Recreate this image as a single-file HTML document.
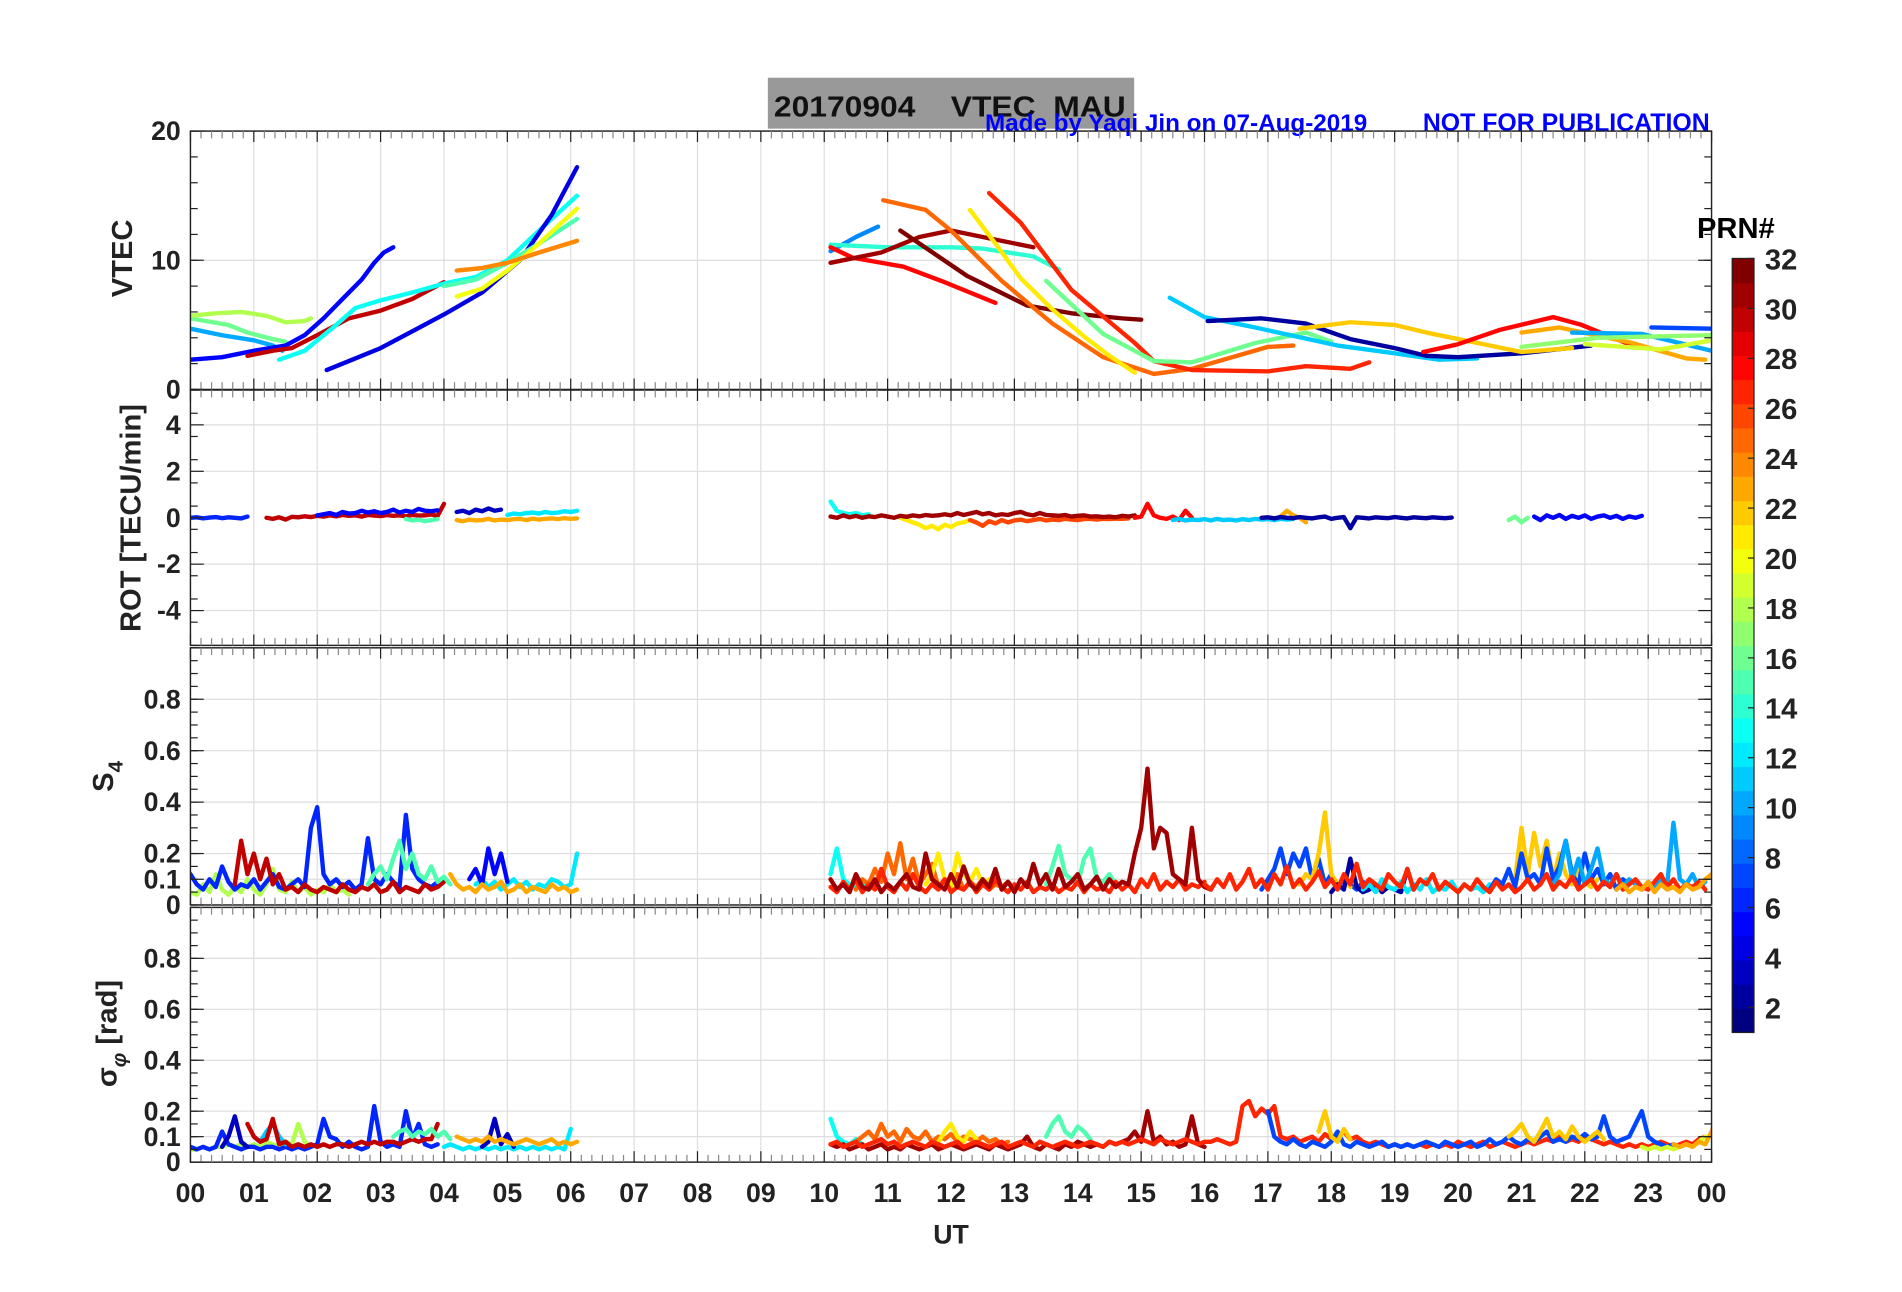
<!DOCTYPE html>
<html><head><meta charset="utf-8"><title>20170904 VTEC MAU</title>
<style>
html,body{margin:0;padding:0;background:#fff;}
svg{display:block;}
text{font-family:"Liberation Sans",Arial,sans-serif;font-weight:bold;}
</style></head>
<body>
<svg id="chart" xmlns="http://www.w3.org/2000/svg" width="1902" height="1292" viewBox="0 0 1568 1065">
<rect x="0" y="0" width="1568" height="1065" fill="#fff"/>
<g id="title-group">
<rect x="633" y="64" width="302" height="42" fill="#999999"/>
<text x="638" y="96" font-size="24" fill="#111" xml:space="preserve" textLength="290" lengthAdjust="spacingAndGlyphs">20170904    VTEC  MAU</text>
<text x="812" y="108" font-size="20" fill="#0000ff">Made by Yaqi Jin on 07-Aug-2019</text>
<text x="1173" y="108" font-size="20.5" fill="#0000ff">NOT FOR PUBLICATION</text>
</g>
<g id="grid"></g>
<g id="marks"></g>
<g id="axes"></g>
<g id="cbar"></g>
<text x="784" y="1025" font-size="22" text-anchor="middle" fill="#222">UT</text>
<text transform="translate(109,213) rotate(-90)" font-size="24" text-anchor="middle" fill="#222">VTEC</text>
<text transform="translate(116,427) rotate(-90)" font-size="24" text-anchor="middle" fill="#222">ROT [TECU/min]</text>
<text transform="translate(93,640) rotate(-90)" font-size="24" text-anchor="middle" fill="#222">S<tspan font-size="17" dy="8">4</tspan></text>
<text transform="translate(96,852) rotate(-90)" font-size="24" text-anchor="middle" fill="#222">σ<tspan font-size="17" dy="8" font-style="italic">φ</tspan><tspan dy="-8"> [rad]</tspan></text>
</svg>
<script>
// ---------- data ----------
const hourLabels = ["00","01","02","03","04","05","06","07","08","09","10","11","12","13","14","15","16","17","18","19","20","21","22","23","00"];
const vtecTicks = [0,10,20];
const rotTicks = [-4,-2,0,2,4];
const s4Ticks = [0,0.1,0.2,0.4,0.6,0.8];
const sigTicks = [0,0.1,0.2,0.4,0.6,0.8];
const cbarTicks = [2,4,6,8,10,12,14,16,18,20,22,24,26,28,30,32];

const vtecTracks = [
 {prn:10,t:[0,0.5,1,1.3,1.45],v:[4.7,4.2,3.8,3.4,3.0]},
 {prn:16,t:[0,0.6,0.9,1.3,1.5],v:[5.5,5.0,4.4,3.9,3.7]},
 {prn:18,t:[0,0.4,0.8,1.2,1.5,1.8,1.9],v:[5.7,5.9,6.0,5.7,5.2,5.3,5.5]},
 {prn:5,t:[0,0.5,1.0,1.5,1.8,2.1,2.4,2.7,2.9,3.05,3.2],v:[2.3,2.5,3.0,3.4,4.2,5.5,7.0,8.5,9.8,10.6,11.0]},
 {prn:30,t:[0.9,1.3,1.6,2.0,2.5,3.0,3.5,4.0],v:[2.6,3.0,3.2,4.2,5.5,6.1,7.0,8.3]},
 {prn:13,t:[1.4,1.8,2.3,2.6,3.0,3.5,4.0,4.5,5.0,5.5,6.1],v:[2.3,3.0,5.0,6.3,6.9,7.5,8.2,8.7,10.0,12.3,15.0]},
 {prn:4,t:[2.15,2.5,3.0,3.5,4.0,4.6,5.2,5.7,6.1],v:[1.5,2.2,3.2,4.5,5.8,7.5,10.0,13.5,17.2]},
 {prn:15,t:[4.0,4.5,5.0,5.5,6.1],v:[8.0,8.5,9.8,11.3,13.2]},
 {prn:20,t:[4.2,4.6,5.0,5.5,6.1],v:[7.2,7.8,9.2,11.3,14.0]},
 {prn:24,t:[4.2,4.6,5.0,5.5,6.1],v:[9.2,9.4,9.8,10.6,11.5]},
 {prn:9,t:[10.1,10.5,10.85],v:[10.7,11.8,12.6]},
 {prn:14,t:[10.1,11.0,12.0,12.5,13.3,13.7],v:[11.2,11.0,11.0,10.9,10.3,9.3]},
 {prn:28,t:[10.1,10.45,11.25,11.9,12.7],v:[11.0,10.2,9.5,8.3,6.7]},
 {prn:31,t:[10.1,10.9,11.5,12.0,12.5,13.3],v:[9.8,10.6,11.8,12.3,11.8,11.0]},
 {prn:32,t:[11.2,12.25,13.2,13.9,14.7,15.0],v:[12.3,8.8,6.5,5.9,5.5,5.4]},
 {prn:25,t:[10.93,11.6,12.0,12.8,13.6,14.4,15.2,15.8,17.0,17.4],v:[14.65,13.9,12.3,8.4,5.1,2.5,1.2,1.6,3.3,3.4]},
 {prn:21,t:[12.3,12.7,13.1,13.6,14.1,14.5,14.9],v:[13.9,11.3,8.6,6.2,4.1,2.6,1.3]},
 {prn:27,t:[12.6,13.1,13.9,14.9,15.2,15.8,17.0,17.6,18.3,18.6],v:[15.2,12.9,7.7,3.6,2.2,1.5,1.4,1.8,1.6,2.1]},
 {prn:16,t:[13.5,14.4,15.2,15.8,16.8,17.6,18.0],v:[8.4,4.3,2.2,2.1,3.6,4.4,3.7]},
 {prn:11,t:[15.45,16.0,16.8,18.1,19.0,19.7,20.3],v:[7.1,5.6,4.8,3.4,2.8,2.3,2.4]},
 {prn:2,t:[16.05,16.9,17.6,18.3,19.0,19.5,20.0,21.0,22.1],v:[5.3,5.5,5.1,3.9,3.2,2.6,2.5,2.8,3.4]},
 {prn:22,t:[17.5,18.3,19.0,19.5,20.5,21.0,21.8],v:[4.7,5.2,5.0,4.4,3.4,2.9,3.2]},
 {prn:28,t:[19.45,20.0,20.65,21.5,21.95,22.8],v:[2.9,3.5,4.6,5.6,5.0,3.3]},
 {prn:23,t:[21.0,21.6,22.75,23.6,23.9],v:[4.4,4.8,3.6,2.4,2.3]},
 {prn:10,t:[21.8,22.9,24.0],v:[4.4,4.3,3.0]},
 {prn:17,t:[21.0,22.2,24.0],v:[3.3,4.0,4.2]},
 {prn:19,t:[22.0,23.2,24.0],v:[3.5,3.1,3.8]},
 {prn:7,t:[23.05,24.0],v:[4.8,4.7]}
];

// noise series: start hour, 0.1-hour sampling
const rotTracks = [
 {prn:6,t0:0,v:[0,0.02,-0.03,0.01,0.03,-0.02,0.02,0,-0.03,0.05]},
 {prn:30,t0:1.2,v:[0,-0.05,0.02,-0.08,0.04,0.02,0.06,0.03,0.08,0.05,0.1,0.06,0.12,0.08,0.1,0.05,0.12,0.09,0.07,0.11,0.08,0.1,0.06,0.12,0.09,0.1,0.14,0.08,0.6]},
 {prn:5,t0:2.0,v:[0.1,0.15,0.2,0.12,0.25,0.18,0.2,0.3,0.22,0.28,0.2,0.25,0.35,0.22,0.3,0.25,0.38,0.3,0.28,0.32]},
 {prn:15,t0:3.4,v:[-0.05,-0.12,-0.08,-0.15,-0.1,-0.06]},
 {prn:3,t0:4.2,v:[0.25,0.3,0.2,0.35,0.28,0.4,0.3,0.35]},
 {prn:12,t0:5.0,v:[0.12,0.18,0.15,0.2,0.22,0.18,0.25,0.2,0.22,0.28,0.25,0.3]},
 {prn:23,t0:4.2,v:[-0.1,-0.15,-0.08,-0.12,-0.1,-0.05,-0.12,-0.08,-0.1,-0.06,-0.05,-0.1,-0.04,-0.08,-0.05,-0.03,-0.06,-0.02,-0.05,-0.03]},
 {prn:13,t0:10.1,v:[0.7,0.3,0.2,0.15,0.2,0.1,0.15]},
 {prn:21,t0:11.2,v:[0,-0.1,-0.2,-0.3,-0.45,-0.35,-0.5,-0.3,-0.4,-0.25,-0.2,-0.1]},
 {prn:26,t0:12.3,v:[-0.1,-0.2,-0.35,-0.15,-0.25,-0.1,-0.2,-0.12,-0.08,-0.15,-0.1,-0.05,-0.12,-0.08,-0.1,-0.05,-0.08,-0.1,-0.06,-0.05,-0.08,-0.05,-0.06,-0.04,-0.05,-0.03]},
 {prn:31,t0:10.1,v:[0.05,0,0.1,0.02,0.08,0,0.06,0.03,0.1,0.05,0,0.08,0.04,0.1,0.06,0.12,0.08,0.1,0.15,0.1,0.2,0.12,0.18,0.25,0.15,0.2,0.1,0.15,0.12,0.2,0.25,0.15,0.1,0.2,0.12,0.1,0.08,0.12,0.05,0.08,0.1,0.05,0.06,0.03,0.05,0.02,0.08,0.05,0.1]},
 {prn:28,t0:14.9,v:[0,0.05,0.6,0.1,0,-0.05,0.05,-0.1,0.3,0]},
 {prn:11,t0:15.5,v:[-0.1,-0.05,-0.12,-0.08,-0.1,-0.06,-0.12,-0.05,-0.1,-0.08,-0.12,-0.06,-0.1,-0.05,-0.08,-0.06,-0.1,-0.05,-0.08,-0.05]},
 {prn:23,t0:17.2,v:[0.05,0.3,0.1,0,-0.2]},
 {prn:2,t0:16.9,v:[0,0.02,-0.03,0.03,0,-0.02,0.03,0,-0.03,0.02,0.05,-0.05,0,0.03,-0.45,0.02,0,-0.03,0.02,0,-0.02,0.03,0,-0.03,0.02,0,-0.02,0.02,0,-0.02,0.01]},
 {prn:16,t0:20.8,v:[-0.1,0.05,-0.2,0]},
 {prn:5,t0:21.2,v:[0.05,-0.1,0.1,0,0.12,-0.05,0.08,0,0.1,-0.05,0.05,0.1,0,0.08,-0.05,0.06,0,0.08]}
];

const s4Tracks = [
 {prn:18,t0:0,v:[0.05,0.04,0.08,0.05,0.12,0.06,0.04,0.07,0.05,0.10,0.06,0.04,0.08,0.14,0.06,0.05,0.09,0.05,0.07,0.04,0.06,0.05,0.08,0.05,0.06,0.04]},
 {prn:6,t0:0,v:[0.12,0.08,0.06,0.10,0.07,0.15,0.09,0.06,0.08,0.07,0.10,0.06,0.09,0.12,0.07,0.06,0.08,0.10,0.07,0.30,0.38,0.12,0.08,0.10,0.07,0.09,0.06,0.08,0.26,0.10,0.08,0.12,0.09,0.07,0.35,0.14,0.10,0.08,0.07,0.09]},
 {prn:30,t0:0.7,v:[0.08,0.25,0.12,0.20,0.10,0.18,0.08,0.12,0.06,0.07,0.05,0.08,0.06,0.05,0.07,0.06,0.05,0.08,0.06,0.05,0.07,0.06,0.08,0.05,0.06,0.09,0.05,0.07,0.06,0.05,0.08,0.06,0.07,0.09]},
 {prn:15,t0:2.8,v:[0.08,0.12,0.15,0.10,0.18,0.25,0.14,0.20,0.12,0.10,0.15,0.09,0.11,0.08]},
 {prn:12,t0:4.5,v:[0.08,0.10,0.07,0.09,0.06,0.08,0.10,0.07,0.09,0.06,0.08,0.07,0.10,0.09,0.07,0.08,0.20]},
 {prn:5,t0:4.4,v:[0.10,0.14,0.08,0.22,0.12,0.20,0.09]},
 {prn:23,t0:4.1,v:[0.12,0.08,0.06,0.07,0.05,0.08,0.06,0.07,0.09,0.05,0.06,0.08,0.05,0.07,0.06,0.05,0.08,0.06,0.07,0.05,0.06]},
 {prn:13,t0:10.1,v:[0.12,0.22,0.10,0.08,0.07,0.09,0.06,0.08]},
 {prn:25,t0:10.5,v:[0.06,0.10,0.08,0.14,0.09,0.20,0.12,0.24,0.10,0.18,0.08,0.12,0.16,0.07,0.10,0.08,0.12,0.06,0.09,0.07,0.10,0.06,0.08,0.07,0.09,0.06]},
 {prn:21,t0:11.6,v:[0.08,0.12,0.20,0.10,0.07,0.20,0.12,0.09,0.14,0.08,0.10]},
 {prn:15,t0:13.5,v:[0.08,0.15,0.23,0.12,0.10,0.08,0.18,0.22,0.10,0.09,0.12,0.08]},
 {prn:27,t0:10.1,v:[0.07,0.05,0.09,0.06,0.10,0.05,0.08,0.06,0.14,0.07,0.05,0.09,0.06,0.12,0.07,0.05,0.08,0.06,0.10,0.05,0.07,0.06,0.09,0.05,0.08,0.06,0.10,0.07,0.05,0.08,0.06,0.09,0.05,0.07,0.06,0.08,0.05,0.07,0.06,0.09,0.05,0.08,0.06,0.07,0.05,0.09,0.06,0.08,0.05,0.10,0.07,0.12,0.06,0.09,0.07,0.10,0.06,0.08,0.07,0.09]},
 {prn:31,t0:10.1,v:[0.10,0.06,0.08,0.05,0.12,0.07,0.06,0.10,0.05,0.08,0.06,0.09,0.12,0.07,0.06,0.20,0.10,0.08,0.06,0.12,0.07,0.15,0.08,0.06,0.10,0.07,0.14,0.06,0.09,0.05,0.10,0.07,0.16,0.08,0.12,0.06,0.14,0.07,0.09,0.12,0.06,0.08,0.11,0.06,0.10,0.07,0.09,0.08,0.20,0.30,0.53,0.22,0.30,0.28,0.12,0.10,0.08,0.30,0.10,0.07,0.06]},
 {prn:7,t0:16.9,v:[0.06,0.10,0.14,0.22,0.12,0.20,0.15,0.22,0.10,0.18,0.08,0.12,0.07,0.10,0.08,0.06,0.09]},
 {prn:22,t0:17.5,v:[0.08,0.12,0.10,0.20,0.36,0.12,0.08,0.10,0.07]},
 {prn:2,t0:18.0,v:[0.05,0.08,0.06,0.18,0.07,0.05,0.06,0.08,0.05,0.07,0.06,0.05,0.14,0.06]},
 {prn:12,t0:18.5,v:[0.06,0.08,0.05,0.10,0.07,0.06,0.09,0.05,0.08,0.06,0.10,0.05,0.07,0.06,0.09,0.05,0.08,0.06,0.07,0.05,0.08]},
 {prn:22,t0:20.9,v:[0.10,0.30,0.12,0.28,0.15,0.25,0.10,0.20,0.12,0.08,0.15,0.09,0.07,0.10]},
 {prn:7,t0:20.5,v:[0.06,0.10,0.08,0.14,0.07,0.20,0.10,0.12,0.08,0.22,0.10,0.15,0.25,0.12,0.08,0.20,0.10,0.14,0.08,0.12,0.06,0.10,0.08]},
 {prn:10,t0:21.5,v:[0.08,0.12,0.25,0.10,0.18,0.08,0.14,0.22,0.10,0.08,0.12,0.07,0.10,0.08,0.06,0.09,0.07,0.10,0.08,0.32,0.10,0.08,0.12,0.07,0.09]},
 {prn:27,t0:16.0,v:[0.08,0.06,0.10,0.07,0.12,0.06,0.09,0.14,0.07,0.10,0.06,0.12,0.08,0.15,0.07,0.10,0.06,0.09,0.13,0.07,0.10,0.06,0.12,0.08,0.16,0.07,0.10,0.08,0.06,0.12,0.09,0.07,0.14,0.06,0.10,0.08,0.12,0.06,0.09,0.07,0.05,0.08,0.06,0.10,0.07,0.05,0.09,0.06,0.08,0.05,0.07,0.10,0.06,0.08,0.12,0.06,0.09,0.07,0.11,0.06,0.08,0.10,0.06,0.09,0.07,0.12,0.06,0.08,0.10,0.07,0.06,0.09,0.12,0.07,0.10,0.06,0.08,0.07,0.09,0.06]},
 {prn:23,t0:22.5,v:[0.06,0.08,0.05,0.07,0.06,0.09,0.05,0.08,0.06,0.07,0.05,0.08,0.06,0.07,0.10,0.12]}
];

const sigTracks = [
 {prn:18,t0:0,v:[0.05,0.05,0.06,0.05,0.06,0.06,0.07,0.06,0.07,0.06,0.07,0.06,0.08,0.07,0.06,0.08,0.07,0.15,0.08,0.06,0.07]},
 {prn:6,t0:0,v:[0.06,0.05,0.06,0.05,0.06,0.12,0.07,0.06,0.05,0.06,0.06,0.05,0.06,0.06,0.05,0.06,0.05,0.06,0.05,0.06,0.07,0.17,0.10,0.09,0.06,0.08,0.06,0.05,0.06,0.22,0.08,0.06,0.07,0.06,0.20,0.09,0.15,0.07,0.06,0.07]},
 {prn:3,t0:0.5,v:[0.06,0.10,0.18,0.08,0.06]},
 {prn:11,t0:1.1,v:[0.08,0.12,0.15,0.10,0.07]},
 {prn:30,t0:0.9,v:[0.15,0.10,0.08,0.09,0.17,0.07,0.08,0.06,0.07,0.06,0.07,0.06,0.07,0.06,0.07,0.07,0.06,0.07,0.08,0.07,0.08,0.07,0.08,0.08,0.07,0.08,0.09,0.08,0.09,0.09,0.15]},
 {prn:15,t0:3.2,v:[0.10,0.12,0.13,0.10,0.12,0.11,0.13,0.10,0.12,0.09]},
 {prn:12,t0:4.0,v:[0.06,0.07,0.06,0.05,0.06,0.05,0.06,0.05,0.06,0.05,0.06,0.05,0.06,0.05,0.06,0.05,0.06,0.05,0.06,0.05,0.13]},
 {prn:3,t0:4.6,v:[0.06,0.08,0.17,0.07,0.11,0.06]},
 {prn:23,t0:4.2,v:[0.10,0.09,0.08,0.09,0.08,0.10,0.08,0.09,0.08,0.07,0.08,0.09,0.08,0.07,0.08,0.09,0.07,0.08,0.07,0.08]},
 {prn:13,t0:10.1,v:[0.17,0.10,0.08,0.07,0.09,0.07]},
 {prn:25,t0:10.5,v:[0.08,0.10,0.12,0.09,0.15,0.10,0.12,0.08,0.13,0.10,0.09,0.12,0.08,0.10,0.09,0.11,0.08,0.10,0.09,0.08,0.10,0.08,0.09,0.07,0.08]},
 {prn:21,t0:11.8,v:[0.08,0.12,0.15,0.10,0.08,0.12,0.09]},
 {prn:15,t0:13.5,v:[0.10,0.15,0.18,0.12,0.10,0.14,0.12,0.09]},
 {prn:31,t0:10.1,v:[0.07,0.06,0.07,0.05,0.06,0.07,0.05,0.06,0.07,0.05,0.06,0.05,0.07,0.06,0.05,0.06,0.07,0.05,0.06,0.07,0.06,0.05,0.06,0.07,0.06,0.05,0.07,0.06,0.05,0.06,0.07,0.10,0.06,0.05,0.07,0.06,0.05,0.07,0.06,0.08,0.07,0.06,0.07,0.06,0.08,0.07,0.08,0.09,0.12,0.08,0.20,0.08,0.10,0.07,0.08,0.06,0.07,0.18,0.07,0.06]},
 {prn:27,t0:10.1,v:[0.07,0.08,0.06,0.07,0.08,0.06,0.07,0.08,0.09,0.07,0.08,0.06,0.07,0.08,0.07,0.06,0.08,0.07,0.06,0.07,0.08,0.06,0.07,0.08,0.07,0.06,0.07,0.08,0.06,0.07,0.08,0.07,0.06,0.08,0.07,0.06,0.07,0.08,0.07,0.06,0.07,0.08,0.07,0.06,0.08,0.07,0.08,0.07,0.08,0.09,0.08,0.07,0.09,0.08,0.07,0.08,0.09,0.08,0.07,0.08,0.08,0.09,0.08,0.07,0.08,0.22,0.24,0.18,0.21,0.19,0.22,0.10,0.09,0.10,0.08,0.09,0.10,0.08,0.11,0.09,0.10,0.12,0.09,0.10,0.08,0.07,0.08,0.07,0.06,0.07,0.06,0.07,0.06,0.07,0.06,0.07,0.06,0.07,0.06,0.08,0.07,0.06,0.07,0.08,0.06,0.07,0.08,0.07,0.06,0.07,0.08,0.07,0.08,0.09,0.08,0.10,0.08,0.09,0.08,0.10,0.09,0.08,0.07,0.08,0.07,0.06,0.07,0.06,0.07,0.06,0.07,0.08,0.07,0.06,0.07,0.08,0.07,0.09,0.10]},
 {prn:7,t0:17.0,v:[0.20,0.10,0.08,0.07,0.09,0.07,0.06,0.08,0.07,0.06,0.08,0.12,0.07,0.06,0.08,0.07,0.06,0.07,0.08,0.06,0.07,0.06,0.07,0.06,0.07,0.08,0.07,0.06,0.08,0.07,0.06,0.07,0.08,0.06,0.07,0.09,0.07,0.08,0.10,0.08,0.07,0.09,0.08,0.10,0.12,0.08,0.09,0.08,0.10,0.09,0.11,0.09,0.10,0.18,0.10,0.08,0.09,0.10,0.15,0.20,0.10,0.08,0.07,0.06,0.07,0.06,0.07]},
 {prn:22,t0:17.8,v:[0.12,0.20,0.10,0.08,0.13,0.09]},
 {prn:22,t0:20.8,v:[0.10,0.12,0.15,0.10,0.08,0.12,0.17,0.10,0.12,0.09,0.14,0.10,0.08,0.10,0.12,0.09]},
 {prn:19,t0:22.9,v:[0.06,0.05,0.06,0.05,0.06,0.05,0.06,0.07,0.06,0.08,0.10]},
 {prn:23,t0:23.4,v:[0.07,0.06,0.07,0.06,0.08,0.07,0.12,0.19]}
];

// ---------- layout ----------
const X0 = 157, X1 = 1411;
const panels = [
 {name:"vtec", y0:108, y1:321, min:0, max:20},
 {name:"rot", y0:321.5, y1:532, min:-5.5, max:5.5},
 {name:"s4", y0:534, y1:746, min:0, max:1},
 {name:"sigma", y0:748, y1:958, min:0, max:1}
];
const NS = "http://www.w3.org/2000/svg";
function xs(h){ return X0 + h*(X1-X0)/24; }
function ys(p, v){ return p.y1 - (v-p.min)/(p.max-p.min)*(p.y1-p.y0); }
function jet(prn){
 const t = (prn-1)/31;
 const c = x => Math.round(255*Math.max(0,Math.min(1,x)));
 return "rgb("+c(1.5-Math.abs(4*t-3))+","+c(1.5-Math.abs(4*t-2))+","+c(1.5-Math.abs(4*t-1))+")";
}
function mk(tag, attrs, parent){
 const e = document.createElementNS(NS, tag);
 for (const k in attrs) e.setAttribute(k, attrs[k]);
 parent.appendChild(e);
 return e;
}
const gGrid = document.getElementById("grid");
const gMarks = document.getElementById("marks");
const gAxes = document.getElementById("axes");
const gCbar = document.getElementById("cbar");

const gridY = {vtec:[10], rot:[-4,-2,2,4], s4:[0.1,0.2,0.4,0.6,0.8], sigma:[0.1,0.2,0.4,0.6,0.8]};
const tickY = {vtec:vtecTicks, rot:rotTicks, s4:s4Ticks, sigma:sigTicks};
const minorStep = {vtec:2, rot:1, s4:0.05, sigma:0.05};

panels.forEach(p => {
 for (let h=1; h<24; h++){
  const l = mk("line",{x1:xs(h),x2:xs(h),y1:p.y0,y2:p.y1,stroke:"#dedede","stroke-width":1},gGrid);
  
  
 }
 gridY[p.name].forEach(v => {
  const l = mk("line",{x1:X0,x2:X1,y1:ys(p,v),y2:ys(p,v),stroke:"#dedede","stroke-width":1},gGrid);
  
  
 });
 const fr = mk("rect",{x:X0,y:p.y0,width:X1-X0,height:p.y1-p.y0,fill:"none",stroke:"#222","stroke-width":1.2},gAxes);
 
 
 for (let m=0; m<=144; m++){
  const h = m/6, major = (m%6===0);
  const len = major ? 9 : 6;
  const col = major ? "#222" : "#888";
  mk("line",{x1:xs(h),x2:xs(h),y1:p.y1,y2:p.y1-len,stroke:col,"stroke-width":1},gAxes);
  mk("line",{x1:xs(h),x2:xs(h),y1:p.y0,y2:p.y0+len,stroke:col,"stroke-width":1},gAxes);
 }
 const st = minorStep[p.name];
 for (let v=p.min; v<=p.max+1e-9; v+=st){
  const y = ys(p,v);
  if (y < p.y0-0.5 || y > p.y1+0.5) continue;
  mk("line",{x1:X0,x2:X0+6,y1:y,y2:y,stroke:"#222","stroke-width":1},gAxes);
  mk("line",{x1:X1,x2:X1-6,y1:y,y2:y,stroke:"#222","stroke-width":1},gAxes);
 }
 tickY[p.name].forEach(v => {
  const y = ys(p,v);
  mk("line",{x1:X0,x2:X0+11,y1:y,y2:y,stroke:"#222","stroke-width":1},gAxes);
  mk("line",{x1:X1,x2:X1-11,y1:y,y2:y,stroke:"#222","stroke-width":1},gAxes);
  const t = mk("text",{x:X0-8,y:y+7.5,"font-size":22,"text-anchor":"end",fill:"#222"},gAxes);
  t.textContent = String(v);
  
  
 });
});

hourLabels.forEach((lab,i) => {
 const t = mk("text",{x:xs(i),y:991,"font-size":22,"text-anchor":"middle",fill:"#222"},gAxes);
 t.textContent = lab;
 
 
});

function clipG(p){
 const id = "clip-"+p.name;
 const cp = mk("clipPath",{id:id},gMarks);
 mk("rect",{x:X0,y:p.y0,width:X1-X0,height:p.y1-p.y0},cp);
 const g = mk("g",{"clip-path":"url(#"+id+")"},gMarks);
 
 
 return g;
}
const gV = clipG(panels[0]);
vtecTracks.forEach(tr => {
 const pts = tr.t.map((h,i) => xs(h).toFixed(1)+","+ys(panels[0],tr.v[i]).toFixed(1)).join(" ");
 const pl = mk("polyline",{points:pts,fill:"none",stroke:jet(tr.prn),"stroke-width":3.6,"stroke-linejoin":"round","stroke-linecap":"round"},gV);
 
 
});
function drawNoise(tracks, p, w, label){
 const g = clipG(p);
 tracks.forEach(tr => {
  const pts = tr.v.map((v,i) => xs(tr.t0+i*0.1).toFixed(1)+","+ys(p,v).toFixed(1)).join(" ");
  const pl = mk("polyline",{points:pts,fill:"none",stroke:jet(tr.prn),"stroke-width":w,"stroke-linejoin":"round","stroke-linecap":"round"},g);
  
  
 });
}
drawNoise(rotTracks, panels[1], 3.6, "rot");
drawNoise(s4Tracks, panels[2], 3.6, "s4");
drawNoise(sigTracks, panels[3], 3.6, "sigma");

const CB = {x:1428, w:18, y0:213, y1:851, min:1, max:32};
for (let k=0; k<32; k++){
 const h = (CB.y1-CB.y0)/32;
 const r = mk("rect",{x:CB.x,y:(CB.y1-(k+1)*h).toFixed(2),width:CB.w,height:(h+0.6).toFixed(2),fill:jet(k+1)},gCbar);
 
 
}
mk("rect",{x:CB.x,y:CB.y0,width:CB.w,height:CB.y1-CB.y0,fill:"none",stroke:"#222","stroke-width":1},gCbar);
cbarTicks.forEach(v => {
 const y = CB.y1 - (v-CB.min)/(CB.max-CB.min)*(CB.y1-CB.y0);
 mk("line",{x1:CB.x+CB.w,x2:CB.x+CB.w-5,y1:y,y2:y,stroke:"#222","stroke-width":1},gCbar);
 const t = mk("text",{x:1455,y:y+9,"font-size":24,fill:"#222"},gCbar);
 t.textContent = String(v);
 
 
});
const pt = mk("text",{x:1399,y:196,"font-size":24,fill:"#000"},gCbar);
pt.textContent = "PRN#";


</script>
</body></html>
